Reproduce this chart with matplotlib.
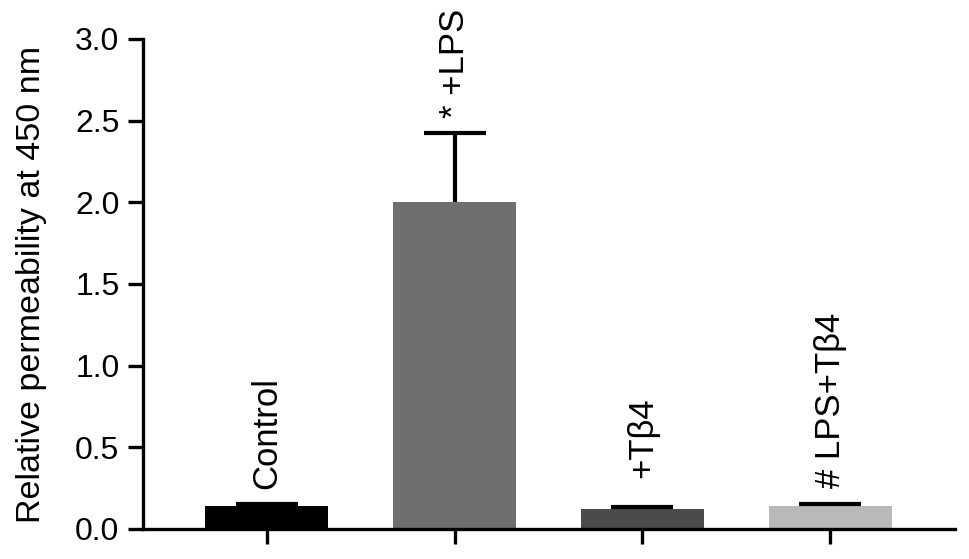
import matplotlib.pyplot as plt

plt.rcParams['font.family'] = ['Liberation Sans', 'DejaVu Sans']

groups = ["Control", "+LPS", "+Tβ4", "LPS+Tβ4"]
means = [0.14, 2.00, 0.122, 0.14]
errors = [0.015, 0.425, 0.013, 0.01]
marks = ["", "*", "", "#"]
colors = ["#000000", "#6f6f6f", "#4b4b4b", "#b9b9b9"]
yticks = [0.0, 0.5, 1.0, 1.5, 2.0, 2.5, 3.0]

# gap between error cap and the rotated label (data units)
label_gap = [0.09, 0.09, 0.18, 0.1]

fig = plt.figure(figsize=(9.69, 5.59), dpi=100)
ax = fig.add_axes([0.1476, 0.0537, 0.838, 0.8766])

x = range(len(groups))
ax.bar(x, means, width=0.655, color=colors, zorder=2)
for i in x:
    eb = ax.errorbar(i, means[i], yerr=[[0], [errors[i]]], fmt="none",
                     ecolor="black", elinewidth=3, capsize=22, capthick=3, zorder=3)
    eb[1][0].set_visible(False)  # no cap at the bottom
    label = (marks[i] + " " + groups[i]).strip()
    ax.text(i, means[i] + errors[i] + label_gap[i], label, rotation=90,
            ha="center", va="bottom", fontsize=25)

ax.set_xlim(-0.66, 3.665)
ax.set_ylim(0, 3.0)
ax.set_yticks(yticks)
ax.set_yticklabels([f"{t:.1f}" for t in yticks])
ax.set_xticks(list(x))
ax.set_xticklabels([])
ax.set_ylabel("Relative permeability at 450 nm", fontsize=24.5, labelpad=20)

for s in ["top", "right"]:
    ax.spines[s].set_visible(False)
for s in ["left", "bottom"]:
    ax.spines[s].set_linewidth(2.4)
ax.tick_params(axis="both", width=2.4, length=11, labelsize=23, pad=6)

plt.savefig("out.png", dpi=100)
